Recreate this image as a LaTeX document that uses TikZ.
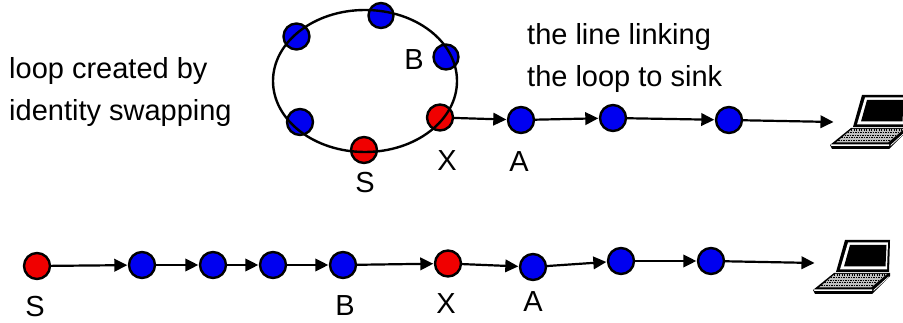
\documentclass[tikz,border=0pt]{standalone}
\usepackage{fontspec}
\setmainfont{Liberation Sans}
\usetikzlibrary{arrows.meta}
\definecolor{nblue}{RGB}{0,0,240}
\definecolor{nred}{RGB}{240,0,0}
\tikzset{
  mote/.style={circle,draw=black,line width=2.4pt,minimum size=26pt,inner sep=0pt},
  bluemote/.style={mote,fill=nblue},
  redmote/.style={mote,fill=nred},
  link/.style={line width=2.2pt,-{Triangle[length=13pt,width=12.5pt]},shorten >=0.5pt},
  lab/.style={font=\fontsize{29}{32}\selectfont,inner sep=0pt},
  laptop/.pic={
    % screen
    \fill[black] (32,0) -- (77,0) -- (76,32) -- (23,32) -- cycle;
    \fill[white] (35,2.5) -- (75,2.5) -- (74,29.5) -- (27,29.5) -- cycle;
    \fill[black] (37,5) -- (73.5,5) -- (72.5,26.5) -- (31,26.5) -- cycle;
    % base
    \fill[black] (21,33) -- (77,33) -- (77,36) -- (59,54) -- (2,54) -- (0,50) -- cycle;
    \fill[white] (0.5,49.5) -- (59,49.5) -- (59,51) -- (1.5,51) -- cycle;
    \fill[white] (60.5,50) -- (75.5,36.5) -- (75.5,37.5) -- (60.5,51) -- cycle;
    \fill[white!75!black] (22,34) -- (74,34) -- (58,47.5) -- (6,47.5) -- cycle;
    \foreach \r in {0,1,2,3,4}
      \draw[black,line width=1.2pt,dash pattern=on 1.4pt off 1.1pt]
        ({21-3.2*\r},{35+2.6*\r}) -- ({73-3.2*\r},{35+2.6*\r});
  }
}
\begin{document}
\begin{tikzpicture}[x=1pt,y=-1pt]
\useasboundingbox (0,0) rectangle (903,323);
% upper row
\node[bluemote] (t1) at (296.5,36.5) {};
\node[bluemote,minimum size=25pt] (t2) at (381,15.5) {};
\node[bluemote,minimum size=25pt] (t3) at (446,57) {};
\node[redmote] (x1) at (440,117.5) {};
\node[bluemote] (t5) at (300,122) {};
\node[redmote] (s1) at (364,150) {};
\node[bluemote] (a1) at (521,120) {};
\node[bluemote] (u2) at (613,118) {};
\node[bluemote] (u3) at (729,120) {};
\coordinate (e1) at (834,122);
\coordinate (ringc) at (365,81);
\draw[black,line width=2.4pt] (ringc) ellipse [x radius=92,y radius=71];
\draw[link] (x1) -- (a1);
\draw[link] (a1) -- (u2);
\draw[link] (u2) -- (u3);
\draw[link] (u3) -- (e1);
\pic at (830,95) {laptop};
% lower row
\node[redmote] (s2) at (37,266) {};
\node[bluemote] (b1) at (142,265) {};
\node[bluemote] (b2) at (213,265) {};
\node[bluemote] (b3) at (273,265) {};
\node[bluemote] (b4) at (343,265) {};
\node[redmote] (x2) at (448,263.5) {};
\node[bluemote] (a2) at (533,267) {};
\node[bluemote] (b6) at (621,261) {};
\node[bluemote] (b7) at (711,261) {};
\coordinate (e2) at (815,263);
\draw[link] (s2) -- (b1);
\draw[link] (b1) -- (b2);
\draw[link] (b2) -- (b3);
\draw[link] (b3) -- (b4);
\draw[link] (b4) -- (x2);
\draw[link] (x2) -- (a2);
\draw[link] (a2) -- (b6);
\draw[link] (b6) -- (b7);
\draw[link] (b7) -- (e2);
\pic at (813,240) {laptop};
% labels
\node[lab,anchor=base west] (l1) at (9,79) {loop created by};
\node[lab,anchor=base west] (l2) at (9,121) {identity swapping};
\node[lab,anchor=base west] (l3) at (527,45) {the line linking};
\node[lab,anchor=base west] (l4) at (527,87) {the loop to sink};
\node[lab,anchor=base] (lb) at (414,70) {B};
\node[lab,anchor=base] (lx) at (447,171) {X};
\node[lab,anchor=base] (la) at (519,172) {A};
\node[lab,anchor=base] (ls) at (365,193) {S};
\node[lab,anchor=base] (ls2) at (35,316.5) {S};
\node[lab,anchor=base] (lb2) at (345,316) {B};
\node[lab,anchor=base] (lx2) at (446,314) {X};
\node[lab,anchor=base] (la2) at (533,312) {A};
\end{tikzpicture}
\end{document}
